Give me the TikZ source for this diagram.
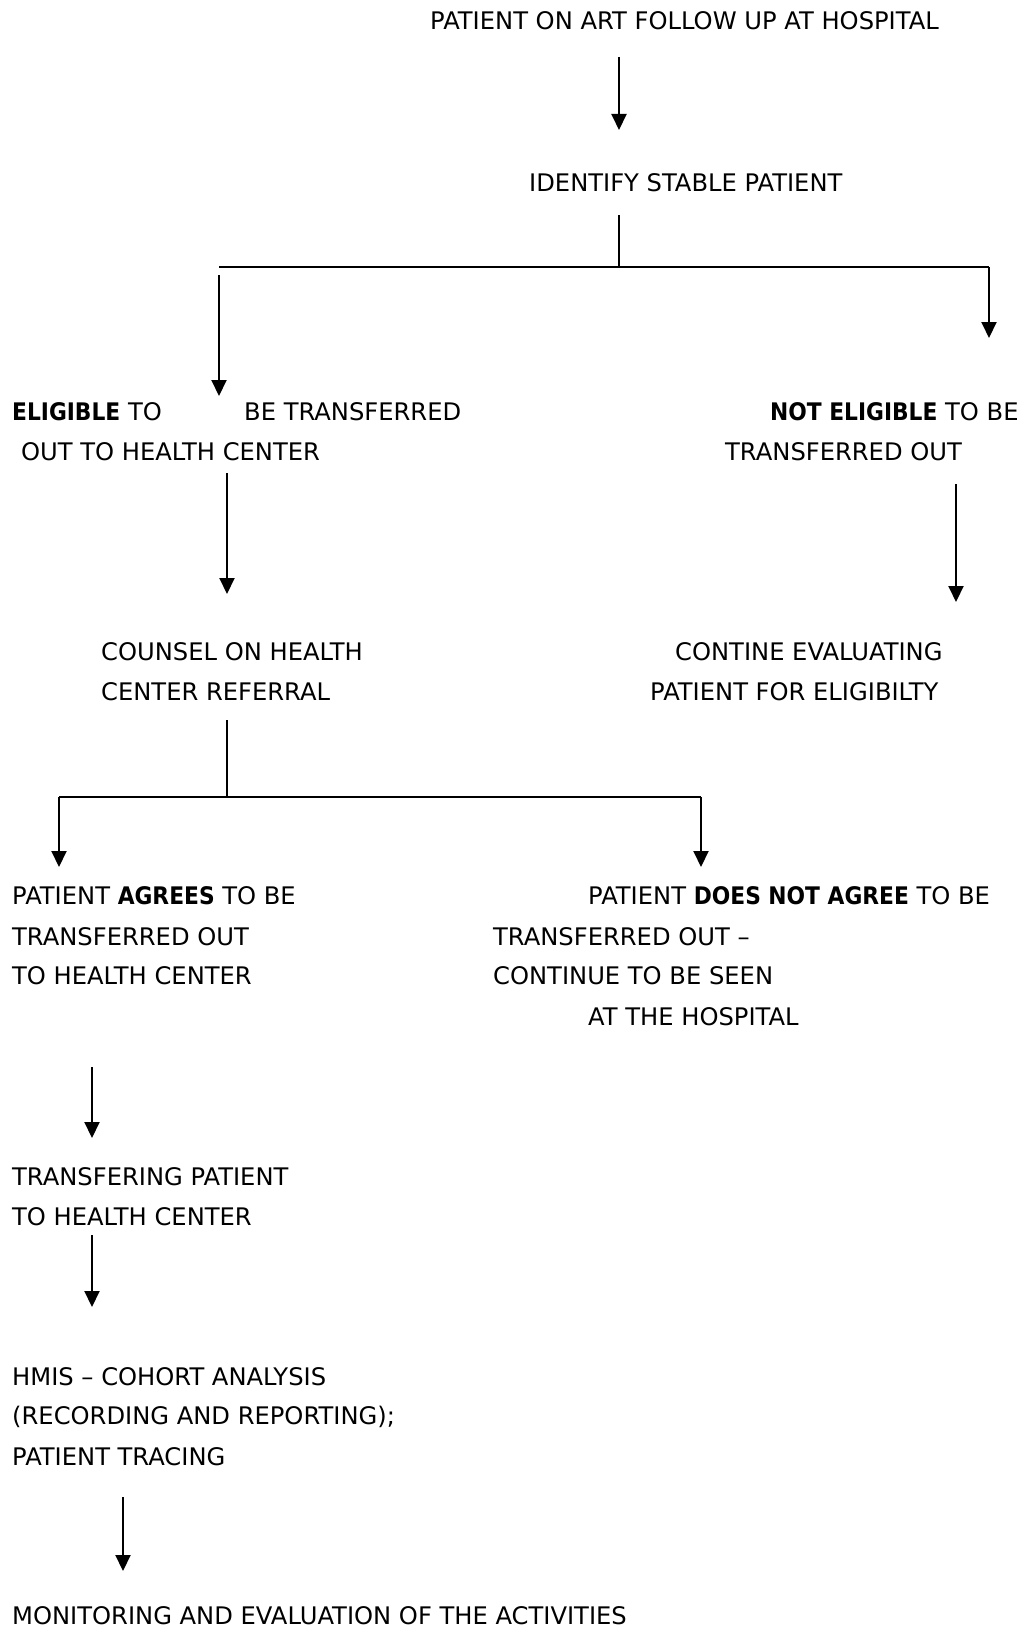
\documentclass[tikz,border=0pt]{standalone}
\usepackage{fontspec}
\setmainfont{DejaVu Sans}[BoldFont={DejaVu Sans Condensed Bold}]
\usetikzlibrary{arrows.meta}
\begin{document}
\begin{tikzpicture}[x=1pt,y=-1pt,
  txt/.style={anchor=base west,inner sep=0pt,font=\fontsize{24.2}{29}\selectfont},
  arr/.style={line width=2pt,-{Triangle[length=16pt,width=15pt]}},
  ln/.style={line width=1.6pt}]
\useasboundingbox (0,0) rectangle (1021,1627);
% texts
\node[txt] (t1) at (430,30) {PATIENT ON ART FOLLOW UP AT HOSPITAL};
\node[txt] (t2) at (529,191) {IDENTIFY STABLE PATIENT};
\node[txt] (e1) at (12,420) {\textbf{ELIGIBLE} TO};
\node[txt] (e2) at (244,420) {BE TRANSFERRED};
\node[txt] (e3) at (21,460) {OUT TO HEALTH CENTER};
\node[txt] (n1) at (770,420) {\textbf{NOT ELIGIBLE} TO BE};
\node[txt] (n2) at (725,460) {TRANSFERRED OUT};
\node[txt] (c1) at (101,660) {COUNSEL ON HEALTH};
\node[txt] (c2) at (101,700) {CENTER REFERRAL};
\node[txt] (v1) at (675,660) {CONTINE EVALUATING};
\node[txt] (v2) at (650,700) {PATIENT FOR ELIGIBILTY};
\node[txt] (a1) at (12,904) {PATIENT \textbf{AGREES} TO BE};
\node[txt] (a2) at (12,945) {TRANSFERRED OUT};
\node[txt] (a3) at (12,984) {TO HEALTH CENTER};
\node[txt] (d1) at (588,904) {PATIENT \textbf{DOES NOT AGREE} TO BE};
\node[txt] (d2) at (493,945) {TRANSFERRED OUT –};
\node[txt] (d3) at (493,984) {CONTINUE TO BE SEEN};
\node[txt] (d4) at (588,1025) {AT THE HOSPITAL};
\node[txt] (p1) at (12,1185) {TRANSFERING PATIENT};
\node[txt] (p2) at (12,1225) {TO HEALTH CENTER};
\node[txt] (h1) at (12,1385) {HMIS – COHORT ANALYSIS};
\node[txt] (h2) at (12,1424) {(RECORDING AND REPORTING);};
\node[txt] (h3) at (12,1465) {PATIENT TRACING};
\node[txt] (m1) at (12,1624) {MONITORING AND EVALUATION OF THE ACTIVITIES};
% coordinates
\coordinate (s1) at (619,57);  \coordinate (f1) at (619,130);
\coordinate (s2) at (619,215); \coordinate (j2) at (619,267);
\coordinate (jl) at (219,267); \coordinate (jr) at (989,267);
\coordinate (sl) at (219,275); \coordinate (fl) at (219,396);
\coordinate (fr) at (989,338);
\coordinate (s3) at (227,473); \coordinate (f3) at (227,594);
\coordinate (s4) at (956,484); \coordinate (f4) at (956,602);
\coordinate (s5) at (227,720); \coordinate (j5) at (227,797);
\coordinate (kl) at (59,797);  \coordinate (kr) at (701,797);
\coordinate (gl) at (59,867);  \coordinate (gr) at (701,867);
\coordinate (s6) at (92,1067); \coordinate (f6) at (92,1138);
\coordinate (s7) at (92,1235); \coordinate (f7) at (92,1307);
\coordinate (s8) at (123,1497);\coordinate (f8) at (123,1571);
% connectors
\draw[arr] (s1) -- (f1);
\draw[ln] (s2) -- (j2);
\draw[ln] (jl) -- (jr);
\draw[arr] (sl) -- (fl);
\draw[arr] (jr) -- (fr);
\draw[arr] (s3) -- (f3);
\draw[arr] (s4) -- (f4);
\draw[ln] (s5) -- (j5);
\draw[ln] (kl) -- (kr);
\draw[arr] (kl) -- (gl);
\draw[arr] (kr) -- (gr);
\draw[arr] (s6) -- (f6);
\draw[arr] (s7) -- (f7);
\draw[arr] (s8) -- (f8);
\end{tikzpicture}
\end{document}
